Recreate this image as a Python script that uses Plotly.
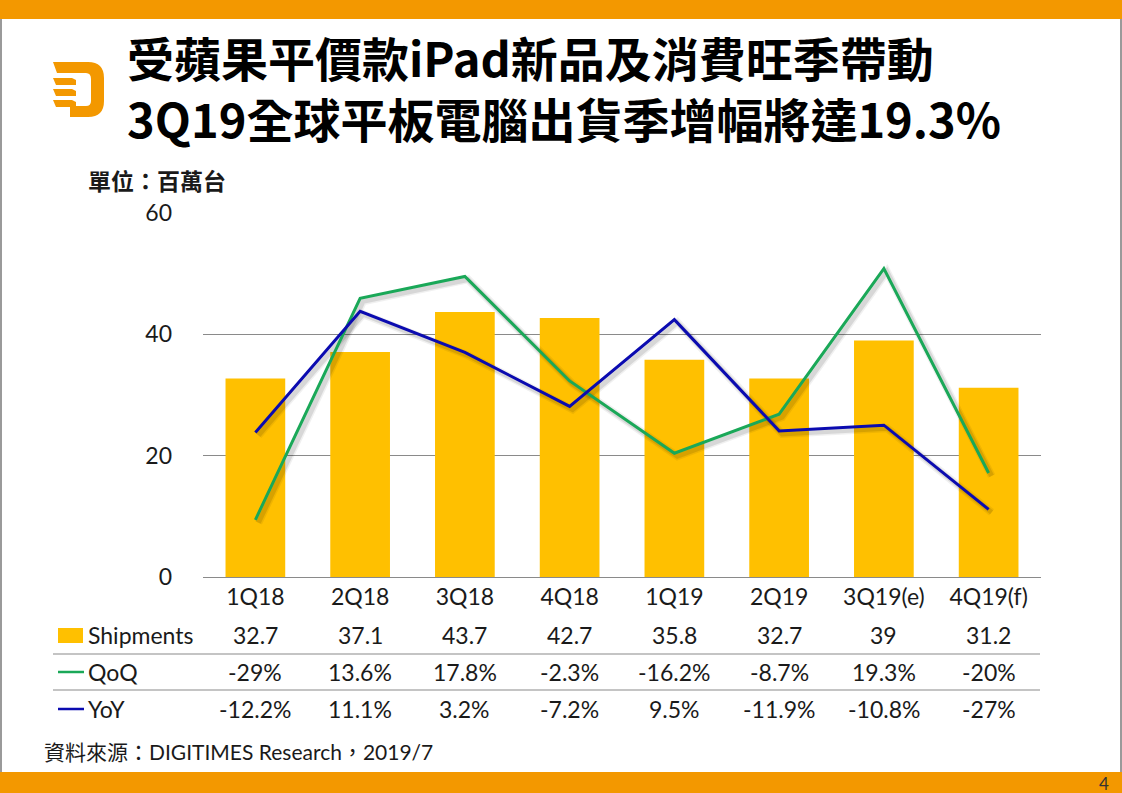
import plotly.graph_objects as go

# ---------------- data ----------------
categories = ["1Q18", "2Q18", "3Q18", "4Q18", "1Q19", "2Q19", "3Q19(e)", "4Q19(f)"]
shipments = [32.7, 37.1, 43.7, 42.7, 35.8, 32.7, 39, 31.2]
qoq = [-0.29, 0.136, 0.178, -0.023, -0.162, -0.087, 0.193, -0.20]
yoy = [-0.122, 0.111, 0.032, -0.072, 0.095, -0.119, -0.108, -0.27]
qoq_labels = ["-29%", "13.6%", "17.8%", "-2.3%", "-16.2%", "-8.7%", "19.3%", "-20%"]
yoy_labels = ["-12.2%", "11.1%", "3.2%", "-7.2%", "9.5%", "-11.9%", "-10.8%", "-27%"]
ship_labels = ["32.7", "37.1", "43.7", "42.7", "35.8", "32.7", "39", "31.2"]
y_ticks = [0, 20, 40, 60]

title_line1 = "受蘋果平價款iPad新品及消費旺季帶動"
title_line2 = "3Q19全球平板電腦出貨季增幅將達19.3%"
unit_label = "單位：百萬台"
source_label = "資料來源：DIGITIMES Research，2019/7"
page_number = "4"

# ---------------- layout constants ----------------
W, H = 1122, 793
L, R, T, B = 203, 1041, 213, 577  # plot area in pixels

def px(x):
    return (x - L) / (R - L)

def py(y):
    return (B - y) / (B - T)

GOLD = "#FFC000"
GREEN = "#1AA858"
BLUE = "#0B0BB0"
ORANGE = "#F39800"
GRID = "#8A8A8A"
TXT = "#1A1A1A"
LAT = "Lato, 'Noto Sans CJK TC', sans-serif"
CJK = "'Noto Sans CJK TC', 'Noto Sans CJK SC', sans-serif"

xs = list(range(len(categories)))

fig = go.Figure()

fig.add_trace(go.Bar(x=xs, y=shipments, marker=dict(color=GOLD, line=dict(width=0)),
                     name="Shipments", showlegend=False))

# soft line shadows (offset a few pixels down/right)
dx = 3 / ((R - L) / len(categories))
dy = 3 / ((B - T) / 0.7)
for series in (qoq, yoy):
    for w, a in ((8, 0.06), (5, 0.10)):
        fig.add_trace(go.Scatter(x=[x + dx for x in xs], y=[v - dy for v in series], yaxis="y2",
                                 mode="lines", line=dict(color=f"rgba(0,0,0,{a})", width=w),
                                 hoverinfo="skip", showlegend=False))

fig.add_trace(go.Scatter(x=xs, y=qoq, yaxis="y2", mode="lines", name="QoQ",
                         line=dict(color=GREEN, width=3), showlegend=False))
fig.add_trace(go.Scatter(x=xs, y=yoy, yaxis="y2", mode="lines", name="YoY",
                         line=dict(color=BLUE, width=3), showlegend=False))

shapes = []
annotations = []

# top / bottom orange bands and side borders
shapes.append(dict(type="rect", xref="paper", yref="paper", x0=px(0), x1=px(W), y0=py(0), y1=py(19),
                   fillcolor=ORANGE, line=dict(width=0), layer="above"))
shapes.append(dict(type="rect", xref="paper", yref="paper", x0=px(0), x1=px(W), y0=py(793), y1=py(772),
                   fillcolor=ORANGE, line=dict(width=0), layer="above"))
for xb in (1, 1121):
    shapes.append(dict(type="line", xref="paper", yref="paper", x0=px(xb), x1=px(xb), y0=py(19), y1=py(772),
                       line=dict(color="#9A9A9A", width=2)))

# logo
def path(pts):
    s = ""
    for tok in pts:
        if isinstance(tok, str):
            s += tok + " "
        else:
            s += f"{px(tok[0]):.5f},{py(tok[1]):.5f} "
    return s + "Z"

logo_main = path(["M", (53, 62), "L", (88, 62), "Q", (104, 62), (104, 78), "L", (104, 101),
                  "Q", (104, 117), (88, 117), "L", (70, 117), "L", (70, 106), "L", (86, 106),
                  "Q", (91, 106), (91, 101), "L", (91, 79), "Q", (91, 73), (86, 73), "L", (57, 73)])
shapes.append(dict(type="path", xref="paper", yref="paper", path=logo_main,
                   fillcolor=ORANGE, line=dict(width=0)))
for y0 in (78, 89, 100):
    shapes.append(dict(type="path", xref="paper", yref="paper",
                       path=path(["M", (53, y0), "L", (72, y0), "L", (76, y0 + 2), "L", (76, y0 + 7),
                                  "L", (56, y0 + 7)]),
                       fillcolor=ORANGE, line=dict(width=0)))

# title (two lines in one text block)
annotations.append(dict(text=f"<b>{title_line1}<br>{title_line2}</b>", x=px(125), y=py(87),
                        xref="paper", yref="paper", xanchor="left", yanchor="middle", align="left",
                        showarrow=False, font=dict(family=CJK, size=47, color="#000000")))
annotations.append(dict(text=f"<b>{unit_label}</b>", x=px(86), y=py(180), xref="paper", yref="paper",
                        xanchor="left", yanchor="middle", showarrow=False,
                        font=dict(family=CJK, size=23, color=TXT)))

# data table
rows_y = [635, 672, 709]
for yline in (654, 690):
    shapes.append(dict(type="line", xref="paper", yref="paper", x0=px(53), x1=px(1040),
                       y0=py(yline), y1=py(yline), line=dict(color=GRID, width=1.2)))

row_names = ["Shipments", "QoQ", "YoY"]
row_vals = [ship_labels, qoq_labels, yoy_labels]
for ry, name, vals in zip(rows_y, row_names, row_vals):
    annotations.append(dict(text=name, x=px(86), y=py(ry), xref="paper", yref="paper",
                            xanchor="left", yanchor="middle", showarrow=False,
                            font=dict(family=LAT, size=23, color=TXT)))
    for xi, v in zip(xs, vals):
        annotations.append(dict(text=v, x=xi, y=py(ry), xref="x", yref="paper",
                                xanchor="center", yanchor="middle", showarrow=False,
                                font=dict(family=LAT, size=23, color=TXT)))

# legend keys
shapes.append(dict(type="rect", xref="paper", yref="paper", x0=px(58), x1=px(83),
                   y0=py(643), y1=py(628), fillcolor=GOLD, line=dict(width=0)))
shapes.append(dict(type="line", xref="paper", yref="paper", x0=px(58), x1=px(84),
                   y0=py(672), y1=py(672), line=dict(color=GREEN, width=2.5)))
shapes.append(dict(type="line", xref="paper", yref="paper", x0=px(58), x1=px(84),
                   y0=py(709), y1=py(709), line=dict(color=BLUE, width=2.5)))

# source and page number
annotations.append(dict(text=source_label, x=px(42), y=py(751), xref="paper", yref="paper",
                        xanchor="left", yanchor="middle", showarrow=False,
                        font=dict(family=LAT, size=21, color=TXT)))
annotations.append(dict(text=page_number, x=px(1104), y=py(783), xref="paper", yref="paper",
                        xanchor="center", yanchor="middle", showarrow=False,
                        font=dict(family=LAT, size=17, color="#333333")))

fig.update_layout(
    width=W, height=H,
    margin=dict(l=L, r=W - R, t=T, b=H - B, pad=0),
    paper_bgcolor="white", plot_bgcolor="white",
    bargap=0.43,
    xaxis=dict(range=[-0.5, len(categories) - 0.5], tickvals=xs, ticktext=categories,
               showgrid=False, zeroline=False, showline=False, ticks="",
               tickfont=dict(family=LAT, size=23, color=TXT), ticklabelstandoff=4,
               fixedrange=True),
    yaxis=dict(range=[0, 60], tickvals=y_ticks, showgrid=True, gridcolor=GRID, gridwidth=1,
               zeroline=True, zerolinecolor=GRID, zerolinewidth=1.2, showline=False, ticks="",
               tickfont=dict(family=LAT, size=23, color=TXT), ticklabelstandoff=30,
               fixedrange=True),
    yaxis2=dict(range=[-0.4, 0.3], overlaying="y", side="right", visible=False,
                showgrid=False, zeroline=False, fixedrange=True),
    shapes=shapes,
    annotations=annotations,
    showlegend=False,
)

fig.write_html("out.html")
